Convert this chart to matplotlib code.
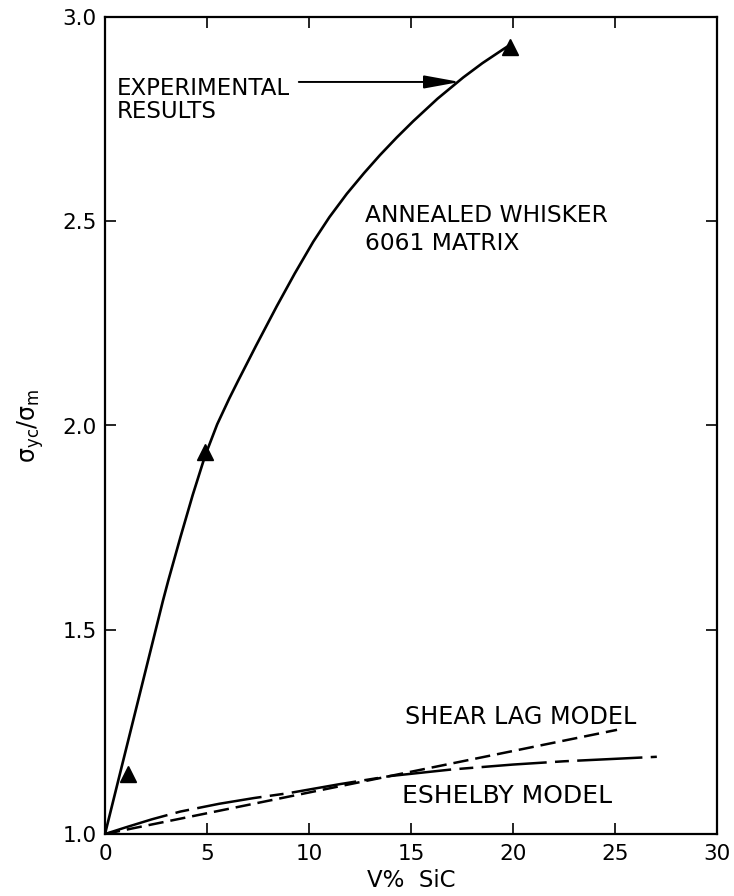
import matplotlib
matplotlib.use("Agg")
import matplotlib.pyplot as plt

plt.rcParams['font.family'] = ['DejaVu Sans']
plt.rcParams['lines.scale_dashes'] = False
plt.rcParams['mathtext.fontset'] = 'dejavusans'

# Experimental curve
exp_x = [0.0, 0.73, 1.8, 2.84, 3.10, 3.7, 4.3, 4.9, 5.5, 6.09, 6.53, 7.4, 8.42,
         9.3, 10.21, 11.0, 11.85, 12.7, 13.48, 14.3, 15.11, 16.3, 17.56, 18.5, 19.52, 19.8]
exp_y = [1.0, 1.147, 1.362, 1.571, 1.620, 1.727, 1.830, 1.925, 2.003, 2.066, 2.110, 2.195, 2.292,
         2.372, 2.450, 2.510, 2.567, 2.618, 2.662, 2.705, 2.745, 2.800, 2.852, 2.887, 2.921, 2.930]

# Experimental data points (triangles)
pts_x = [1.13, 4.9, 19.85]
pts_y = [1.147, 1.936, 2.926]

# Shear lag model
shear_x = [0.0, 25.1]
shear_y = [1.0, 1.255]

# Eshelby model
esh_x = [0.0, 1.0, 2.3, 3.7, 5.6, 7.3, 9.0, 11.5, 14.0, 17.0, 20.0, 22.5, 25.0, 27.05]
esh_y = [1.0, 1.016, 1.036, 1.055, 1.074, 1.088, 1.100, 1.122, 1.142, 1.158, 1.170, 1.178, 1.184, 1.189]

xticks = [0, 5, 10, 15, 20, 25, 30]
xticklabels = ['0', '5', '10', '15', '20', '25', '30']
yticks = [1.0, 1.5, 2.0, 2.5, 3.0]
yticklabels = ['1.0', '1.5', '2.0', '2.5', '3.0']

fig = plt.figure(figsize=(7.34, 8.96), dpi=100)
ax = fig.add_axes([105/734, 1-834/896, (717-105)/734, (834-17)/896])

ax.plot(exp_x, exp_y, color='black', lw=1.9, solid_capstyle='round', solid_joinstyle='round')
ax.plot(pts_x, pts_y, linestyle='none', marker='^', markersize=11, color='black')
ax.plot(shear_x, shear_y, color='black', lw=1.8, linestyle=(0, (11, 5)))
ax.plot(esh_x, esh_y, color='black', lw=1.8, linestyle=(0, (47, 6, 10, 6)))

ax.set_xlim(0, 30)
ax.set_ylim(1.0, 3.0)
ax.set_xticks(xticks)
ax.set_xticklabels(xticklabels)
ax.set_yticks(yticks)
ax.set_yticklabels(yticklabels)

for s in ax.spines.values():
    s.set_linewidth(1.6)

ax.tick_params(axis='both', direction='in', top=True, right=True,
               length=8, width=1.2, labelsize=15.5)
ax.tick_params(axis='x', pad=7)
ax.tick_params(axis='y', pad=6)

ax.set_xlabel('V%  SiC', fontsize=16.5, labelpad=4)
ax.set_ylabel(r'$\mathregular{\sigma_{yc}/\sigma_m}$', fontsize=17, labelpad=12)

# annotations
ax.text(0.59, 2.809, 'EXPERIMENTAL', fontsize=16.5, ha='left', va='baseline')
ax.text(0.59, 2.753, 'RESULTS', fontsize=16.5, ha='left', va='baseline')
ax.annotate('', xy=(17.4, 2.841), xytext=(9.5, 2.841),
            arrowprops=dict(arrowstyle='-|>,head_length=1.1,head_width=0.2',
                            mutation_scale=20, lw=1.4, color='black',
                            shrinkA=0, shrinkB=0))
ax.text(12.75, 2.498, 'ANNEALED WHISKER', fontsize=16.8, ha='left', va='baseline')
ax.text(12.75, 2.430, '6061 MATRIX', fontsize=16.8, ha='left', va='baseline')
ax.text(14.7, 1.269, 'SHEAR LAG MODEL', fontsize=17.2, ha='left', va='baseline')
ax.text(14.56, 1.076, 'ESHELBY MODEL', fontsize=18, ha='left', va='baseline')

fig.savefig('out.png', dpi=100)
